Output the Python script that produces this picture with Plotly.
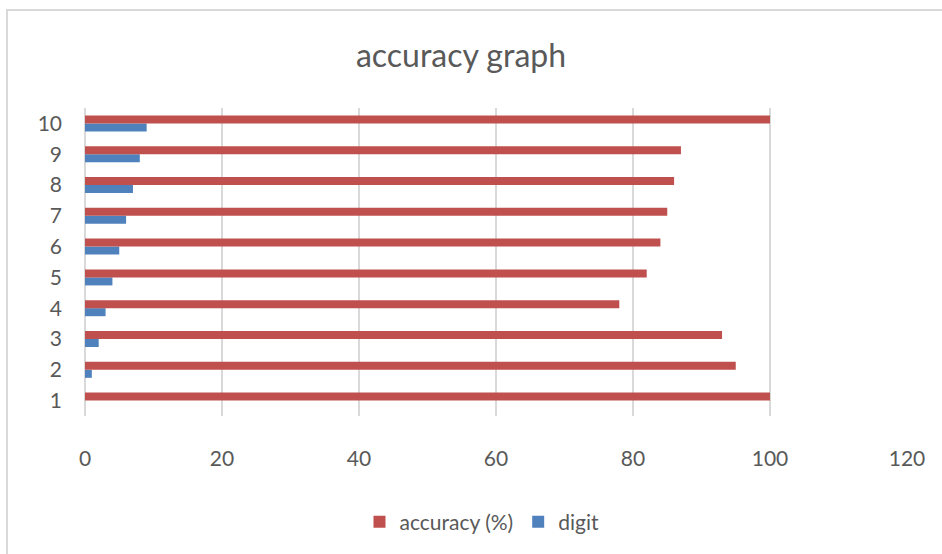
import plotly.graph_objects as go

categories = ["1", "2", "3", "4", "5", "6", "7", "8", "9", "10"]
accuracy = [100, 95, 93, 78, 82, 84, 85, 86, 87, 100]
digit = [0, 1, 2, 3, 4, 5, 6, 7, 8, 9]
x_ticks = [0, 20, 40, 60, 80, 100, 120]

FONT = "Lato"
GREY = "#595959"
GRID = "#d9d9d9"

W, H = 942, 554
ML, MR, MT, MB = 85, 35, 108, 138
PW = W - ML - MR
PH = H - MT - MB

fig = go.Figure()
fig.add_trace(go.Bar(y=categories, x=digit, orientation="h", name="digit",
                     marker=dict(color="#4F81BD", line=dict(width=0))))
fig.add_trace(go.Bar(y=categories, x=accuracy, orientation="h", name="accuracy (%)",
                     marker=dict(color="#C0504D", line=dict(width=0))))

def px_x(p):
    return (p - ML) / PW

def px_y(p):
    return (H - MB - p) / PH

fig.update_layout(
    width=W, height=H,
    margin=dict(l=ML, r=MR, t=MT, b=MB),
    paper_bgcolor="white", plot_bgcolor="white",
    barmode="group", bargap=0.48, bargroupgap=0,
    font=dict(family=FONT, color=GREY, size=20),
    title=dict(text="accuracy graph", x=px_x(461), xref="paper", xanchor="center",
               y=1 - 56 / H, yref="container", yanchor="middle",
               font=dict(family=FONT, size=32, color=GREY)),
    xaxis=dict(range=[0, 120], tickvals=x_ticks, showgrid=True, gridcolor=GRID,
               gridwidth=2, zeroline=True, zerolinecolor=GRID, zerolinewidth=2,
               showline=False, ticks="", ticklabelstandoff=28,
               tickfont=dict(size=21, color=GREY), fixedrange=True),
    yaxis=dict(type="category", categoryorder="array", categoryarray=categories,
               showgrid=False, showline=False, ticks="", ticklabelstandoff=22,
               tickfont=dict(size=21, color=GREY), fixedrange=True),
    legend=dict(orientation="h", traceorder="reversed", x=px_x(482), xanchor="center",
                y=px_y(522), yanchor="middle", font=dict(size=21, color=GREY),
                itemwidth=30, bgcolor="rgba(0,0,0,0)"),
    showlegend=True,
)

fig.add_shape(type="rect", xref="paper", yref="paper",
              x0=px_x(7), x1=px_x(960), y0=px_y(580), y1=px_y(10),
              line=dict(color=GRID, width=2), fillcolor="rgba(0,0,0,0)", layer="below")

fig.write_html("out.html")
